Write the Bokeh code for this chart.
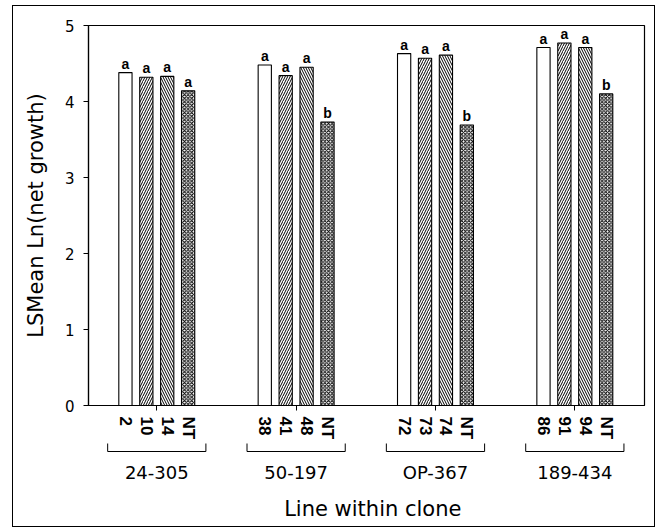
from bokeh.plotting import figure
from bokeh.models import ColumnDataSource, Range1d, FixedTicker, Spacer
from bokeh.layouts import column, row
from bokeh.core.properties import value
from bokeh.embed import file_html
from bokeh.resources import INLINE

# ---- data ----
clones = ["24-305", "50-197", "OP-367", "189-434"]
lines = [["2", "10", "14", "NT"],
         ["38", "41", "48", "NT"],
         ["72", "73", "74", "NT"],
         ["86", "91", "94", "NT"]]
lsmeans = [[4.38, 4.32, 4.33, 4.14],
           [4.48, 4.34, 4.45, 3.73],
           [4.63, 4.57, 4.61, 3.69],
           [4.71, 4.77, 4.71, 4.10]]
letters = [["a", "a", "a", "a"],
           ["a", "a", "a", "b"],
           ["a", "a", "a", "b"],
           ["a", "a", "a", "b"]]
patterns = ["blank", "right_diagonal_line", "left_diagonal_line", "diagonal_cross"]
pattern_scales = [5, 5, 5, 3.6]
y_ticks = [0, 1, 2, 3, 4, 5]
x_title = "Line within clone"
y_title = "LSMean Ln(net growth)"

# ---- layout constants ----
BAR_STEP = 3
GROUP_STEP = 20
BAR_W = 1.9
W = 641
LEFT, RIGHT = 75, 10
TOP, FRAME_H, AX_B = 19, 385, 32
LOWER_H = 84

xs, tops, labs, lets, pats, scs = [], [], [], [], [], []
for g in range(len(clones)):
    for i in range(4):
        xs.append(g * GROUP_STEP + i * BAR_STEP)
        tops.append(lsmeans[g][i])
        labs.append(lines[g][i])
        lets.append(letters[g][i])
        pats.append(patterns[i])
        scs.append(pattern_scales[i])
centers = [g * GROUP_STEP + 1.5 * BAR_STEP for g in range(len(clones))]

src = ColumnDataSource(dict(x=xs, top=tops, lab=labs, let=lets, pat=pats, sc=scs))
xr = Range1d(-5.3, 74.5)

p = figure(width=W, height=TOP + FRAME_H + AX_B, output_backend="svg",
           toolbar_location=None, x_range=xr, y_range=Range1d(0, 5),
           min_border_left=LEFT, min_border_right=RIGHT, min_border_top=TOP,
           min_border_bottom=AX_B)
p.grid.visible = False
p.outline_line_color = "black"
p.outline_line_width = 1.2
p.background_fill_color = "white"
p.border_fill_color = "white"

p.vbar(x="x", top="top", width=BAR_W, bottom=0, source=src,
       fill_color="white", line_color="black", line_width=1.1,
       hatch_pattern="pat", hatch_color="black", hatch_scale="sc", hatch_weight=1)

p.text(x="x", y="top", text="let", source=src, text_align="center",
       text_baseline="bottom", y_offset=-1, text_font=value("Liberation Sans"),
       text_font_style="bold", text_font_size="14px", text_color="black")

# y axis
ya = p.yaxis[0]
ya.ticker = FixedTicker(ticks=y_ticks)
ya.minor_tick_line_color = None
ya.major_tick_in = 0
ya.major_tick_out = 5
ya.major_label_standoff = 9
ya.major_label_text_font = "DejaVu Sans"
ya.major_label_text_font_size = "15px"
ya.major_label_text_color = "black"
ya.axis_line_color = "black"
ya.axis_line_width = 1.2
ya.axis_label = y_title
ya.axis_label_text_font = "DejaVu Sans"
ya.axis_label_text_font_size = "21px"
ya.axis_label_text_font_style = "normal"
ya.axis_label_text_color = "black"
ya.axis_label_standoff = 14

# x axis: bar labels as tick labels, minor ticks at group centres
xa = p.xaxis[0]
xa.ticker = FixedTicker(ticks=xs, minor_ticks=centers)
xa.major_label_overrides = {x: l for x, l in zip(xs, labs)}
xa.major_label_orientation = "vertical"
xa.major_tick_line_color = None
xa.major_tick_in = 0
xa.major_tick_out = 0
xa.minor_tick_in = 0
xa.minor_tick_out = 5
xa.minor_tick_line_color = "black"
xa.major_label_standoff = 6
xa.major_label_text_font = "Liberation Sans"
xa.major_label_text_font_style = "bold"
xa.major_label_text_font_size = "17px"
xa.major_label_text_color = "black"
xa.axis_line_color = "black"
xa.axis_line_width = 1.2

# ---- lower panel: brackets, clone names, x title (y = pixels below x axis) ----
q = figure(width=W, height=LOWER_H, output_backend="svg", toolbar_location=None,
           x_range=xr, y_range=Range1d(AX_B + LOWER_H, AX_B),
           min_border_left=LEFT, min_border_right=RIGHT, min_border_top=0,
           min_border_bottom=0, x_axis_type=None, y_axis_type=None)
q.grid.visible = False
q.outline_line_color = None
q.background_fill_color = "white"
q.border_fill_color = "white"

Y_LINE, Y_TICK, Y_CLONE, Y_TITLE = 41, 33, 62, 98
x0s, y0s, x1s, y1s = [], [], [], []
for g in range(len(clones)):
    a = g * GROUP_STEP - BAR_W / 2 - 1.6
    b = g * GROUP_STEP + 3 * BAR_STEP + BAR_W / 2 + 1.6
    x0s += [a, a, b]
    y0s += [Y_TICK, Y_LINE, Y_LINE]
    x1s += [a, b, b]
    y1s += [Y_LINE, Y_LINE, Y_TICK]
q.segment(x0=x0s, y0=y0s, x1=x1s, y1=y1s, line_color="black", line_width=1)

q.text(x=centers, y=[Y_CLONE] * len(clones), text=clones, text_align="center",
       text_baseline="middle", text_font=value("DejaVu Sans"),
       text_font_size="18px", text_color="black")
q.text(x=[35.5], y=[Y_TITLE], text=[x_title], text_align="center",
       text_baseline="middle", text_font=value("DejaVu Sans"),
       text_font_size="21px", text_color="black")

inner = column(p, q, spacing=0)
inner.styles = {"border": "1px solid black"}
layout = column(Spacer(width=10, height=5),
                row(Spacer(width=12, height=10), inner, spacing=0),
                spacing=0)

open("out.html", "w").write(file_html(layout, INLINE))
